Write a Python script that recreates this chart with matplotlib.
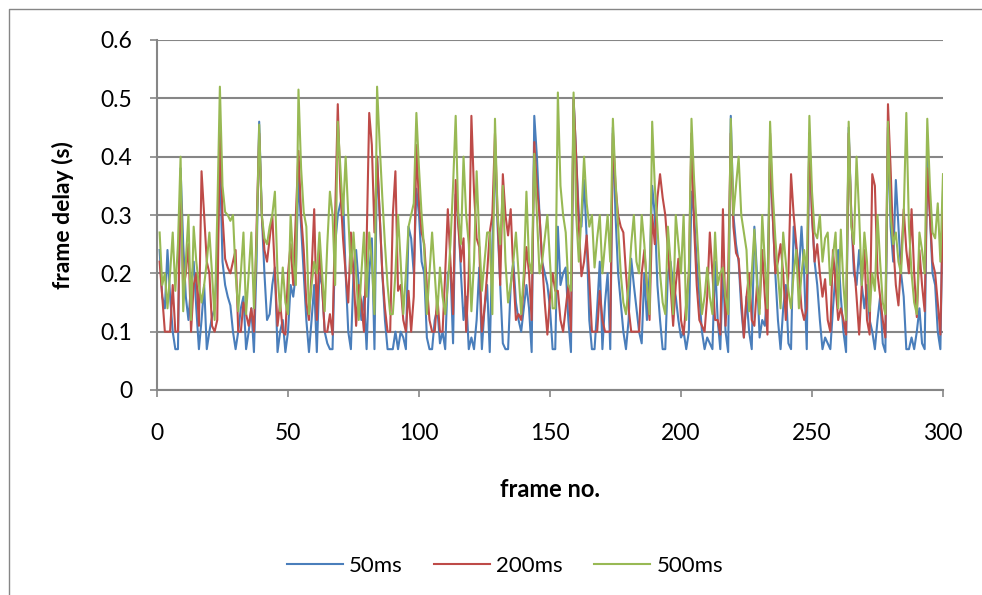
import matplotlib
matplotlib.use("Agg")
import matplotlib.pyplot as plt
from matplotlib.lines import Line2D

# frame delay (s) per frame
delay_50ms = [
    0.24, 0.16, 0.14, 0.24, 0.16, 0.10, 0.07, 0.07, 0.38, 0.25, 0.16, 0.12, 0.18, 0.22, 0.14,
    0.07, 0.12, 0.18, 0.07, 0.10, 0.125, 0.14, 0.22, 0.40, 0.22, 0.18, 0.16, 0.145, 0.10, 0.07,
    0.10, 0.14, 0.16, 0.07, 0.10, 0.14, 0.065, 0.22, 0.46, 0.30, 0.20, 0.12, 0.13, 0.18, 0.21,
    0.065, 0.10, 0.12, 0.065, 0.10, 0.18, 0.16, 0.20, 0.37, 0.28, 0.20, 0.12, 0.065, 0.12, 0.18,
    0.065, 0.20, 0.18, 0.10, 0.08, 0.07, 0.07, 0.25, 0.30, 0.32, 0.335, 0.20, 0.10, 0.07, 0.20,
    0.24, 0.18, 0.12, 0.16, 0.07, 0.20, 0.26, 0.07, 0.40, 0.30, 0.20, 0.12, 0.07, 0.07, 0.07,
    0.10, 0.07, 0.10, 0.09, 0.07, 0.28, 0.26, 0.20, 0.345, 0.30, 0.22, 0.20, 0.09, 0.07, 0.07,
    0.12, 0.14, 0.08, 0.10, 0.07, 0.20, 0.21, 0.08, 0.335, 0.30, 0.20, 0.12, 0.16, 0.07, 0.09,
    0.07, 0.12, 0.21, 0.07, 0.14, 0.18, 0.065, 0.25, 0.41, 0.28, 0.18, 0.08, 0.07, 0.07, 0.18,
    0.22, 0.15, 0.12, 0.10, 0.14, 0.18, 0.14, 0.065, 0.47, 0.40, 0.30, 0.22, 0.20, 0.18, 0.14,
    0.07, 0.07, 0.28, 0.18, 0.20, 0.21, 0.12, 0.065, 0.50, 0.40, 0.30, 0.28, 0.36, 0.26, 0.12,
    0.07, 0.07, 0.14, 0.22, 0.07, 0.15, 0.20, 0.07, 0.45, 0.30, 0.20, 0.15, 0.10, 0.07, 0.12,
    0.225, 0.18, 0.14, 0.10, 0.08, 0.20, 0.12, 0.20, 0.35, 0.30, 0.18, 0.12, 0.07, 0.07, 0.20,
    0.22, 0.18, 0.16, 0.12, 0.09, 0.10, 0.07, 0.10, 0.34, 0.30, 0.22, 0.16, 0.10, 0.07, 0.09,
    0.08, 0.07, 0.22, 0.12, 0.07, 0.21, 0.10, 0.065, 0.47, 0.30, 0.25, 0.22, 0.14, 0.09, 0.16,
    0.10, 0.07, 0.28, 0.20, 0.09, 0.12, 0.11, 0.18, 0.40, 0.30, 0.20, 0.12, 0.07, 0.14, 0.18,
    0.08, 0.07, 0.28, 0.24, 0.20, 0.28, 0.20, 0.07, 0.44, 0.30, 0.22, 0.18, 0.12, 0.07, 0.09,
    0.08, 0.07, 0.14, 0.20, 0.24, 0.16, 0.10, 0.065, 0.45, 0.30, 0.20, 0.18, 0.24, 0.18, 0.14,
    0.18, 0.12, 0.10, 0.07, 0.12, 0.16, 0.08, 0.065, 0.45, 0.28, 0.22, 0.36, 0.28, 0.20, 0.16,
    0.07, 0.07, 0.09, 0.07, 0.10, 0.14, 0.08, 0.07, 0.40, 0.30, 0.20, 0.18, 0.10, 0.07, 0.34,
]

delay_200ms = [
    0.22, 0.16, 0.10, 0.10, 0.10, 0.18, 0.10, 0.10, 0.36, 0.17, 0.20, 0.25, 0.10, 0.18, 0.20,
    0.11, 0.375, 0.30, 0.22, 0.20, 0.11, 0.10, 0.12, 0.45, 0.30, 0.225, 0.21, 0.20, 0.22, 0.24,
    0.10, 0.10, 0.15, 0.13, 0.11, 0.14, 0.10, 0.28, 0.44, 0.30, 0.24, 0.22, 0.26, 0.30, 0.20,
    0.11, 0.15, 0.10, 0.095, 0.20, 0.25, 0.18, 0.30, 0.41, 0.30, 0.24, 0.15, 0.12, 0.20, 0.31,
    0.12, 0.24, 0.18, 0.10, 0.10, 0.13, 0.095, 0.30, 0.49, 0.34, 0.26, 0.20, 0.15, 0.27, 0.20,
    0.11, 0.18, 0.15, 0.10, 0.25, 0.475, 0.42, 0.27, 0.40, 0.30, 0.20, 0.14, 0.10, 0.10, 0.30,
    0.375, 0.17, 0.18, 0.12, 0.10, 0.17, 0.10, 0.16, 0.42, 0.32, 0.27, 0.25, 0.18, 0.12, 0.10,
    0.10, 0.16, 0.10, 0.10, 0.20, 0.31, 0.22, 0.13, 0.36, 0.28, 0.22, 0.26, 0.10, 0.20, 0.47,
    0.34, 0.26, 0.245, 0.10, 0.14, 0.20, 0.27, 0.30, 0.44, 0.30, 0.18, 0.37, 0.30, 0.265, 0.31,
    0.20, 0.12, 0.13, 0.12, 0.18, 0.245, 0.20, 0.12, 0.425, 0.35, 0.30, 0.22, 0.15, 0.095, 0.16,
    0.20, 0.17, 0.17, 0.12, 0.10, 0.14, 0.18, 0.10, 0.50, 0.40, 0.28, 0.195, 0.22, 0.265, 0.19,
    0.10, 0.10, 0.10, 0.17, 0.12, 0.10, 0.10, 0.10, 0.44, 0.35, 0.30, 0.28, 0.27, 0.20, 0.14,
    0.10, 0.10, 0.10, 0.10, 0.20, 0.24, 0.18, 0.12, 0.30, 0.25, 0.33, 0.37, 0.33, 0.30, 0.24,
    0.18, 0.11, 0.18, 0.225, 0.12, 0.095, 0.15, 0.20, 0.44, 0.28, 0.18, 0.12, 0.11, 0.10, 0.16,
    0.27, 0.20, 0.12, 0.12, 0.095, 0.31, 0.11, 0.20, 0.44, 0.28, 0.235, 0.225, 0.16, 0.09, 0.16,
    0.20, 0.12, 0.11, 0.18, 0.14, 0.24, 0.16, 0.095, 0.44, 0.30, 0.20, 0.22, 0.25, 0.20, 0.12,
    0.20, 0.37, 0.30, 0.25, 0.20, 0.14, 0.12, 0.14, 0.44, 0.30, 0.22, 0.25, 0.20, 0.16, 0.19,
    0.12, 0.10, 0.24, 0.18, 0.12, 0.14, 0.12, 0.095, 0.44, 0.30, 0.22, 0.16, 0.095, 0.18, 0.24,
    0.12, 0.095, 0.37, 0.35, 0.20, 0.16, 0.12, 0.09, 0.49, 0.38, 0.25, 0.18, 0.145, 0.22, 0.31,
    0.24, 0.20, 0.31, 0.20, 0.125, 0.24, 0.18, 0.135, 0.38, 0.30, 0.22, 0.20, 0.15, 0.095, 0.32,
]

delay_500ms = [
    0.27, 0.18, 0.20, 0.14, 0.20, 0.27, 0.17, 0.25, 0.40, 0.135, 0.22, 0.30, 0.12, 0.28, 0.22,
    0.18, 0.15, 0.18, 0.22, 0.27, 0.20, 0.12, 0.30, 0.52, 0.35, 0.305, 0.30, 0.29, 0.30, 0.20,
    0.135, 0.20, 0.27, 0.13, 0.20, 0.27, 0.14, 0.25, 0.455, 0.30, 0.26, 0.25, 0.28, 0.30, 0.34,
    0.20, 0.135, 0.21, 0.15, 0.13, 0.30, 0.22, 0.18, 0.515, 0.38, 0.305, 0.28, 0.13, 0.18, 0.22,
    0.20, 0.27, 0.20, 0.135, 0.25, 0.34, 0.30, 0.18, 0.46, 0.38, 0.30, 0.40, 0.30, 0.20, 0.27,
    0.20, 0.12, 0.20, 0.27, 0.16, 0.27, 0.22, 0.13, 0.52, 0.42, 0.33, 0.25, 0.18, 0.13, 0.13,
    0.20, 0.30, 0.22, 0.13, 0.20, 0.28, 0.30, 0.32, 0.475, 0.38, 0.30, 0.24, 0.13, 0.20, 0.27,
    0.20, 0.13, 0.21, 0.16, 0.13, 0.18, 0.25, 0.35, 0.47, 0.30, 0.25, 0.40, 0.30, 0.25, 0.135,
    0.22, 0.375, 0.26, 0.17, 0.22, 0.27, 0.27, 0.13, 0.465, 0.30, 0.25, 0.35, 0.22, 0.15, 0.18,
    0.22, 0.27, 0.20, 0.13, 0.20, 0.34, 0.22, 0.20, 0.405, 0.30, 0.20, 0.22, 0.26, 0.30, 0.22,
    0.14, 0.14, 0.51, 0.35, 0.30, 0.27, 0.18, 0.17, 0.51, 0.30, 0.22, 0.30, 0.40, 0.32, 0.28,
    0.30, 0.21, 0.26, 0.30, 0.20, 0.25, 0.30, 0.22, 0.465, 0.36, 0.28, 0.20, 0.15, 0.13, 0.18,
    0.25, 0.30, 0.22, 0.20, 0.30, 0.25, 0.18, 0.13, 0.46, 0.35, 0.28, 0.20, 0.15, 0.13, 0.28,
    0.22, 0.13, 0.30, 0.25, 0.20, 0.30, 0.12, 0.20, 0.465, 0.36, 0.28, 0.20, 0.13, 0.16, 0.21,
    0.16, 0.13, 0.27, 0.18, 0.20, 0.21, 0.16, 0.13, 0.465, 0.30, 0.35, 0.40, 0.30, 0.27, 0.24,
    0.135, 0.20, 0.275, 0.18, 0.13, 0.30, 0.22, 0.14, 0.46, 0.34, 0.26, 0.20, 0.14, 0.27, 0.22,
    0.17, 0.14, 0.20, 0.24, 0.14, 0.20, 0.24, 0.20, 0.47, 0.34, 0.27, 0.26, 0.30, 0.22, 0.26,
    0.27, 0.18, 0.23, 0.27, 0.14, 0.275, 0.18, 0.12, 0.46, 0.28, 0.25, 0.40, 0.30, 0.18, 0.27,
    0.22, 0.135, 0.20, 0.17, 0.30, 0.22, 0.15, 0.13, 0.46, 0.30, 0.25, 0.27, 0.22, 0.20, 0.30,
    0.475, 0.28, 0.20, 0.15, 0.13, 0.27, 0.24, 0.20, 0.465, 0.35, 0.27, 0.26, 0.32, 0.22, 0.37,
]

frames = list(range(1, len(delay_50ms) + 1))
series = [("50ms", delay_50ms, "#4A7EBB"),
          ("200ms", delay_200ms, "#BE4B48"),
          ("500ms", delay_500ms, "#98B954")]

plt.rcParams['font.family'] = ['Lato', 'DejaVu Sans']
grid_col = "#868686"

fig = plt.figure(figsize=(9.82, 5.95), dpi=100)
# outer chart border (only left and top edges fall inside the picture)
fig.lines.append(Line2D([8.5 / 982, 8.5 / 982, 1.0], [0.0, 1 - 8.5 / 595, 1 - 8.5 / 595],
                        transform=fig.transFigure, color=grid_col, linewidth=1.0))

ax = fig.add_axes([157 / 982, 1 - 390 / 595, 786 / 982, 350 / 595])
for name, vals, col in series:
    ax.plot(frames, vals, color=col, linewidth=1.5, label=name,
            solid_joinstyle="round")

ax.set_xlim(0, 300)
ax.set_ylim(0, 0.6)
ax.set_xticks(range(0, 301, 50))
ax.set_yticks([0, 0.1, 0.2, 0.3, 0.4, 0.5, 0.6])
ax.set_yticklabels(["0", "0.1", "0.2", "0.3", "0.4", "0.5", "0.6"])
ax.yaxis.grid(True, color=grid_col, linewidth=1.5)
ax.set_axisbelow(True)
for s in ["top", "right"]:
    ax.spines[s].set_visible(False)
for s in ["left", "bottom"]:
    ax.spines[s].set_color(grid_col)
    ax.spines[s].set_linewidth(1.5)
ax.tick_params(direction="out", length=5, width=1.2, color=grid_col,
               labelsize=16.5)
ax.tick_params(axis="y", pad=13)
ax.tick_params(axis="x", pad=19)

ax.set_xlabel("frame no.", fontsize=17, fontweight="bold", labelpad=24)
ax.set_ylabel("frame delay (s)", fontsize=16.5, fontweight="bold", labelpad=19)

fig.legend(loc="center", bbox_to_anchor=(505 / 982, 1 - 566 / 595), ncol=3,
           frameon=False, fontsize=16, handlelength=2.5, columnspacing=1.4,
           handletextpad=0.3)

fig.savefig("out.png", dpi=100)
